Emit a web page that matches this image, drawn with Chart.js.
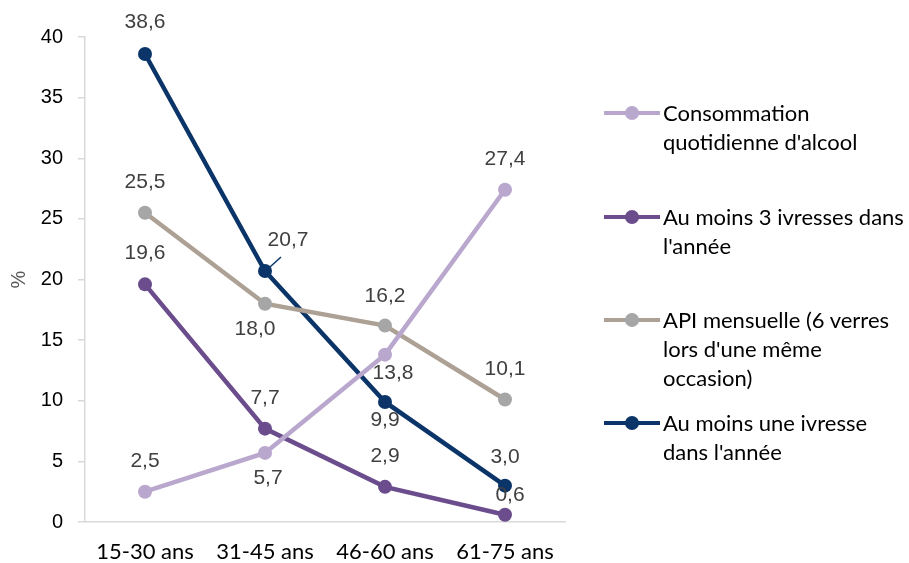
<!DOCTYPE html>
<html>
<head>
<meta charset="utf-8">
<script src="https://cdn.jsdelivr.net/npm/chart.js@4/dist/chart.umd.min.js"></script>
<style>
  html, body { margin: 0; padding: 0; background: #fff; }
  #wrap { position: relative; width: 909px; height: 563px; }
  #legend {
    position: absolute; left: 604px; top: 0; width: 305px;
    font-family: Lato, "Open Sans", sans-serif; font-size: 22px; color: #000;
  }
  .item { position: absolute; left: 0; display: flex; align-items: flex-start; }
  .mark { position: relative; width: 57px; height: 29px; flex: none; }
  .mark .ln { position: absolute; left: 0; right: 1px; top: 13px; height: 4px; }
  .mark .dot { position: absolute; left: 21px; top: 8px; width: 14px; height: 14px; border-radius: 50%; }
  .txt { line-height: 29px; margin-left: 2px; white-space: nowrap; }
</style>
</head>
<body>
<div id="wrap">
  <canvas id="chart" width="909" height="563"></canvas>
  <div id="legend"></div>
</div>
<script>
const categories = ['15-30 ans', '31-45 ans', '46-60 ans', '61-75 ans'];

const seriesNames = [
  "Consommation quotidienne d'alcool",
  "Au moins 3 ivresses dans l'année",
  "API mensuelle (6 verres lors d'une même occasion)",
  "Au moins une ivresse dans l'année"
];

// legend text as it wraps in the picture
const legendLines = [
  ["Consommation", "quotidienne d'alcool"],
  ["Au moins 3 ivresses dans", "l'année"],
  ["API mensuelle (6 verres", "lors d'une même", "occasion)"],
  ["Au moins une ivresse", "dans l'année"]
];

const quotidienne = [2.5, 5.7, 13.8, 27.4];
const troisIvresses = [19.6, 7.7, 2.9, 0.6];
const apiMensuelle = [25.5, 18.0, 16.2, 10.1];
const uneIvresse = [38.6, 20.7, 9.9, 3.0];

const yTicks = [0, 5, 10, 15, 20, 25, 30, 35, 40];

// styles
const lineColors = ['#B9A7CE', '#6B4C8C', '#ADA195', '#0B3568'];
const dotColors = ['#B9A7CE', '#6B4C8C', '#A6A6A6', '#0B3568'];

// label offsets [dx, dy] from each point
const labelOffsets = [
  [[0, -30], [3, 25], [8, 19], [0, -31]],
  [[0, -31], [0, -30], [0, -31], [5, -20]],
  [[0, -31], [-10, 25], [0, -29], [0, -30]],
  [[0, -32], [23, -31], [0, 18], [0, -28]]
];

const legendTops = [98, 202, 305, 408];

const legendEl = document.getElementById('legend');
legendLines.forEach((lines, i) => {
  const item = document.createElement('div');
  item.className = 'item';
  item.style.top = legendTops[i] + 'px';
  item.title = seriesNames[i];
  item.innerHTML = `
    <div class="mark"><div class="ln" style="background:${lineColors[i]}"></div>
    <div class="dot" style="background:${dotColors[i]}"></div></div>
    <div class="txt">${lines.join('<br>')}</div>`;
  legendEl.appendChild(item);
});

const fmt = v => v.toFixed(1).replace('.', ',');

// Draw value labels
const valueLabels = {
  id: 'valueLabels',
  afterDatasetsDraw(chart) {
    const ctx = chart.ctx;
    ctx.save();
    ctx.font = '21px Arial, "Liberation Sans", sans-serif';
    ctx.fillStyle = '#404040';
    ctx.textAlign = 'center';
    ctx.textBaseline = 'middle';
    chart.data.datasets.forEach((ds, i) => {
      const meta = chart.getDatasetMeta(i);
      meta.data.forEach((pt, j) => {
        const off = labelOffsets[i][j];
        ctx.fillText(fmt(ds.data[j]), pt.x + off[0], pt.y + off[1]);
        if (i === 3 && j === 1) {
          // leader line for 20,7
          ctx.strokeStyle = lineColors[3];
          ctx.lineWidth = 1.5;
          ctx.beginPath();
          ctx.moveTo(pt.x + 5, pt.y - 4);
          ctx.lineTo(pt.x + 16, pt.y - 14);
          ctx.stroke();
        }
      });
    });
    ctx.restore();
  }
};

const allSeries = [quotidienne, troisIvresses, apiMensuelle, uneIvresse];

new Chart(document.getElementById('chart'), {
  type: 'line',
  data: {
    labels: categories,
    datasets: allSeries.map((d, i) => ({
      label: seriesNames[i],
      data: d,
      borderColor: lineColors[i],
      backgroundColor: dotColors[i],
      pointBackgroundColor: dotColors[i],
      pointBorderColor: dotColors[i],
      borderWidth: 4.5,
      pointRadius: 7,
      pointBorderWidth: 0,
      tension: 0,
      fill: false
    }))
  },
  options: {
    responsive: false,
    animation: false,
    layout: { padding: { top: 37, right: 344, left: 0, bottom: 0 } },
    plugins: { legend: { display: false }, tooltip: { enabled: false } },
    scales: {
      x: {
        offset: true,
        afterFit: s => { s.height = 41; },
        grid: { drawOnChartArea: false, drawTicks: false },
        border: { color: '#D9D9D9', width: 1.5 },
        ticks: {
          padding: 17,
          color: '#000',
          font: { family: 'Lato, "Open Sans", sans-serif', size: 22 }
        }
      },
      y: {
        min: 0,
        max: 40,
        afterFit: s => { s.width = 85; },
        afterBuildTicks: s => { s.ticks = yTicks.map(v => ({ value: v })); },
        grid: { drawOnChartArea: false, drawTicks: true, tickLength: 7, color: '#D9D9D9', lineWidth: 1.5 },
        border: { color: '#D9D9D9', width: 1.5 },
        ticks: {
          padding: 15,
          color: '#000',
          font: { family: 'Arial, "Liberation Sans", sans-serif', size: 20 }
        },
        title: {
          display: true,
          text: '%',
          color: '#595959',
          padding: { top: 7 },
          font: { family: 'Arial, "Liberation Sans", sans-serif', size: 20 }
        }
      }
    }
  },
  plugins: [valueLabels]
});
</script>
</body>
</html>
